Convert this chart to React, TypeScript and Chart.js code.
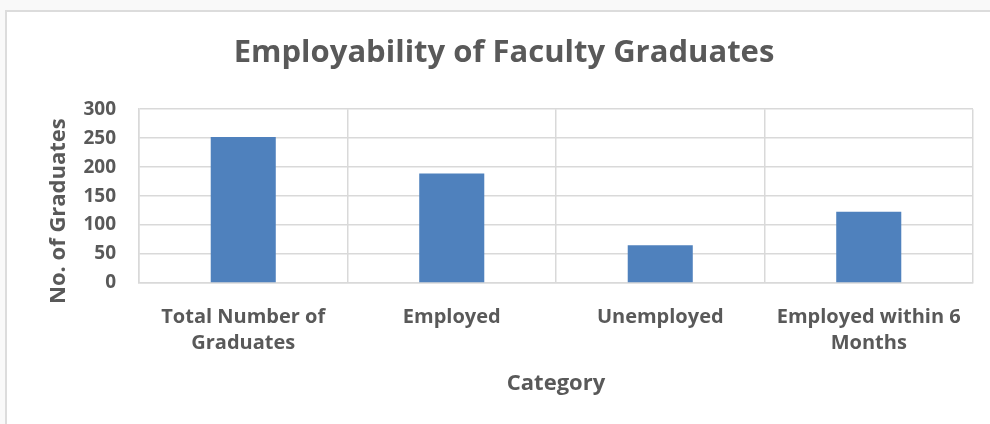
import React, { useEffect, useRef } from "react";
import { Chart, registerables } from "chart.js";

Chart.register(...registerables);

const categories: string[][] = [
  ["Total Number of", "Graduates"],
  ["Employed"],
  ["Unemployed"],
  ["Employed within 6", "Months"],
];
const graduates: number[] = [252, 189, 65, 123];
const yTicks: number[] = [0, 50, 100, 150, 200, 250, 300];

const TITLE = "Employability of Faculty Graduates";
const X_TITLE = "Category";
const Y_TITLE = "No. of Graduates";

const FONT = "'Open Sans', 'Noto Sans', sans-serif";
const TEXT = "#595959";
const GRID = "#d9d9d9";

const yTitlePlugin = {
  id: "yTitle",
  afterDraw(chart: any) {
    const { ctx, chartArea } = chart;
    ctx.save();
    ctx.font = `bold 22px ${FONT}`;
    ctx.fillStyle = TEXT;
    ctx.textAlign = "center";
    ctx.textBaseline = "middle";
    ctx.translate(chartArea.left - 80, (chartArea.top + chartArea.bottom) / 2 + 15);
    ctx.rotate(-Math.PI / 2);
    ctx.fillText(Y_TITLE, 0, 0);
    ctx.restore();
  },
};

export default function App() {
  const ref = useRef<HTMLCanvasElement>(null);
  useEffect(() => {
    if (!ref.current) return;
    const chart = new Chart(ref.current, {
      type: "bar",
      data: {
        labels: categories,
        datasets: [
          {
            data: graduates,
            backgroundColor: "#4f81bd",
            borderWidth: 0,
            barPercentage: 0.312,
            categoryPercentage: 1,
          },
        ],
      },
      options: {
        animation: false,
        responsive: false,
        layout: { padding: { left: 35, right: 17, top: 0, bottom: 0 } },
        plugins: {
          legend: { display: false },
          tooltip: { enabled: false },
          title: {
            display: true,
            text: TITLE,
            color: TEXT,
            font: { family: FONT, size: 31, weight: "bold" },
            padding: { top: 35, bottom: 37 },
          },
        },
        scales: {
          x: {
            grid: { color: GRID, lineWidth: 1.5, drawTicks: false, offset: true },
            border: { color: GRID, width: 1.5 },
            ticks: {
              color: TEXT,
              font: { family: FONT, size: 20, weight: "bold", lineHeight: 1.3 },
              padding: 21,
              maxRotation: 0,
              autoSkip: false,
            },
            title: {
              display: true,
              text: X_TITLE,
              color: TEXT,
              font: { family: FONT, size: 22, weight: "bold" },
              padding: { top: 0, bottom: 27 },
            },
            afterFit(scale: any) {
              scale.height = 141;
            },
          },
          y: {
            min: 0,
            max: 300,
            afterBuildTicks(scale: any) {
              scale.ticks = yTicks.map((v) => ({ value: v }));
            },
            grid: { color: GRID, lineWidth: 1.5, drawTicks: false },
            border: { color: GRID, width: 1.5 },
            ticks: {
              color: TEXT,
              font: { family: FONT, size: 19, weight: "bold" },
              padding: 23,
            },
            afterFit(scale: any) {
              scale.width = 104;
            },
          },
        },
      },
      plugins: [yTitlePlugin],
    });
    return () => chart.destroy();
  }, []);

  return (
    <div
      style={{
        position: "absolute",
        left: 0,
        top: 0,
        width: 990,
        height: 424,
        background: "#f9f9f9",
        overflow: "hidden",
      }}
    >
      <div
        style={{
          position: "absolute",
          left: 5,
          top: 10,
          width: 990,
          height: 420,
          background: "#ffffff",
          borderLeft: "2px solid #dcdcdc",
          borderTop: "2px solid #dcdcdc",
        }}
      />
      <canvas
        ref={ref}
        width={990}
        height={424}
        style={{ position: "absolute", left: 0, top: 0, width: 990, height: 424 }}
      />
    </div>
  );
}
